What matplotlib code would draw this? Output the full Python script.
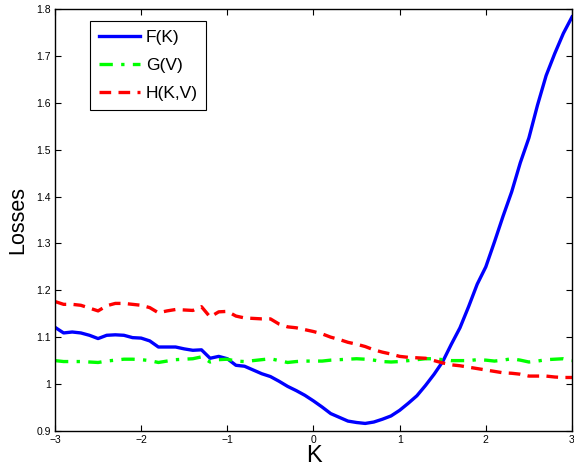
import numpy as np
import matplotlib.pyplot as plt
from matplotlib.ticker import FuncFormatter

plt.rcParams['font.family'] = ['Liberation Sans', 'DejaVu Sans']

# sample positions along K (step 0.1)
k_vals = np.round(np.arange(-3.0, 3.0001, 0.1), 1)

# F(K)
f_vals = [1.121, 1.109, 1.111, 1.109, 1.104, 1.097, 1.104, 1.105, 1.104, 1.099,
          1.098, 1.092, 1.079, 1.079, 1.079, 1.075, 1.072, 1.073, 1.055, 1.059,
          1.054, 1.040, 1.038, 1.030, 1.022, 1.016, 1.006, 0.995, 0.986, 0.976,
          0.964, 0.951, 0.937, 0.929, 0.921, 0.918, 0.916, 0.919, 0.925, 0.932,
          0.944, 0.959, 0.975, 0.997, 1.021, 1.048, 1.085, 1.120, 1.165, 1.213,
          1.250, 1.303, 1.358, 1.410, 1.472, 1.525, 1.595, 1.658, 1.705, 1.748,
          1.783]

# G(V)
g_vals = [1.050, 1.048, 1.048, 1.048, 1.047, 1.046, 1.049, 1.051, 1.053, 1.053,
          1.052, 1.050, 1.046, 1.049, 1.052, 1.053, 1.054, 1.058, 1.047, 1.052,
          1.053, 1.049, 1.048, 1.050, 1.052, 1.054, 1.050, 1.046, 1.048, 1.049,
          1.049, 1.049, 1.051, 1.052, 1.053, 1.054, 1.053, 1.051, 1.048, 1.047,
          1.048, 1.050, 1.052, 1.054, 1.054, 1.052, 1.050, 1.050, 1.050, 1.052,
          1.051, 1.049, 1.051, 1.054, 1.051, 1.047, 1.049, 1.052, 1.053, 1.054,
          1.050]

# H(K,V)
h_vals = [1.176, 1.170, 1.170, 1.168, 1.162, 1.156, 1.167, 1.172, 1.172, 1.170,
          1.168, 1.163, 1.152, 1.156, 1.159, 1.158, 1.157, 1.165, 1.143, 1.154,
          1.155, 1.145, 1.141, 1.140, 1.139, 1.139, 1.128, 1.122, 1.120, 1.116,
          1.112, 1.107, 1.100, 1.095, 1.089, 1.085, 1.080, 1.073, 1.068, 1.064,
          1.059, 1.057, 1.056, 1.055, 1.050, 1.045, 1.041, 1.039, 1.036, 1.033,
          1.030, 1.027, 1.024, 1.023, 1.021, 1.017, 1.017, 1.017, 1.015, 1.014,
          1.014]

series_labels = ['F(K)', 'G(V)', 'H(K,V)']

fig = plt.figure(figsize=(5.74, 4.72), dpi=100)
ax = fig.add_axes([0.0958, 0.087, 0.9007, 0.894])

ax.plot(k_vals, f_vals, color='#0000ff', lw=2.4, ls='-', label=series_labels[0])
ax.plot(k_vals, g_vals, color='#00ff00', lw=2.4, ls=(0, (4, 2.5, 1, 2.5)),
        label=series_labels[1])
ax.plot(k_vals, h_vals, color='#ff0000', lw=2.4, ls=(0, (3.5, 2.2)),
        label=series_labels[2])

ax.set_xlim(-3, 3)
ax.set_ylim(0.9, 1.8)
ax.set_xticks([-3, -2, -1, 0, 1, 2, 3])
ax.set_yticks(np.arange(0.9, 1.81, 0.1))
ax.yaxis.set_major_formatter(FuncFormatter(lambda v, p: '%g' % round(v, 2)))
ax.tick_params(direction='in', length=4, width=0.8, labelsize=7.5,
               top=True, right=True, pad=3)
for s in ax.spines.values():
    s.set_linewidth(1.0)

ax.set_xlabel('K', fontsize=17, labelpad=0)
ax.set_ylabel('Losses', fontsize=15.5, labelpad=6)

leg = ax.legend(loc='upper left', bbox_to_anchor=(0.068, 0.972), fontsize=12.5,
                handlelength=2.4, handletextpad=0.3, borderpad=0.5,
                labelspacing=0.75, fancybox=False, framealpha=1,
                edgecolor='black', borderaxespad=0)
leg.get_frame().set_linewidth(0.8)

fig.savefig('out.png', dpi=100)
